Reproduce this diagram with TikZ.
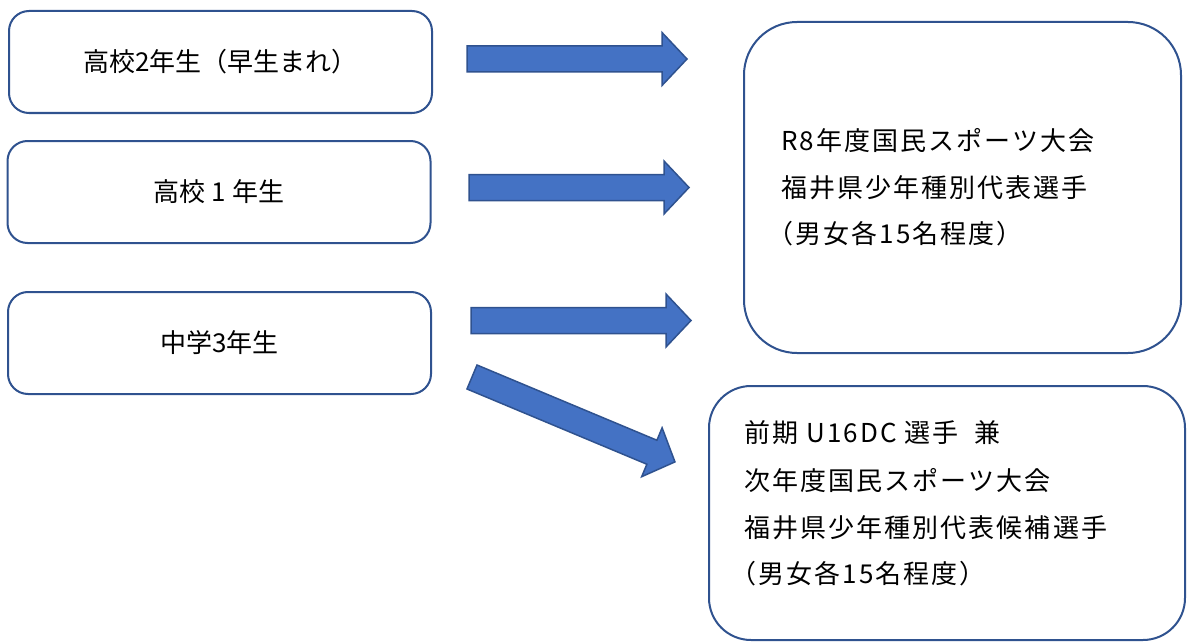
\documentclass[tikz,border=0pt]{standalone}
\usepackage{fontspec}
\setmainfont{Noto Sans CJK JP}
\newfontfamily\jpwide[LetterSpace=8]{Noto Sans CJK JP}
\definecolor{edgeblue}{HTML}{2F528F}
\definecolor{fillblue}{HTML}{4472C4}
\tikzset{
  leftbox/.style={draw=edgeblue, line width=2pt, rounded corners=20pt,
    minimum width=423pt, minimum height=102pt, inner sep=0pt,
    font=\fontsize{26}{30}\selectfont},
  bigbox/.style={draw=edgeblue, line width=2pt, inner sep=0pt},
  rtext/.style={anchor=base west, inner sep=0pt, font=\fontsize{26}{30}\jpwide},
  blockarr/.pic={\draw[draw=edgeblue, fill=fillblue, line width=1.5pt, line join=miter]
    (0,-13) -- (195,-13) -- (195,-26.5) -- (220,0) -- (195,26.5) -- (195,13) -- (0,13) -- cycle;}
}
\begin{document}
\begin{tikzpicture}[x=1pt, y=-1pt]
\useasboundingbox (0,0) rectangle (1187,642);
% left boxes
\node[leftbox] (b1) at (220.5,62) {高校2年生（早生まれ）};
\node[leftbox] (b2) at (219,192) {高校 1 年生};
\node[leftbox] (b3) at (219.5,343) {中学3年生};
% right boxes
\node[bigbox, rounded corners=53pt, minimum width=437pt, minimum height=331pt] (ra) at (962.5,187.5) {};
\node[bigbox, rounded corners=42pt, minimum width=476pt, minimum height=254pt] (rb) at (947,513) {};
% text of box A
\node[rtext] (a1) at (781,150) {R8年度国民スポーツ大会};
\node[rtext] (a2) at (781,197) {福井県少年種別代表選手};
\node[rtext] (a3) at (767,243) {（男女各15名程度）};
% text of box B
\node[rtext] (c1) at (744,442) {前期 U16DC 選手\hspace{16pt}兼};
\node[rtext] (c2) at (744,490) {次年度国民スポーツ大会};
\node[rtext] (c3) at (744,537) {福井県少年種別代表候補選手};
\node[rtext] (c4) at (730,583) {（男女各15名程度）};
% block arrows
\pic (arr1) at (467,59) {blockarr};
\pic (arr2) at (469,187.5) {blockarr};
\pic (arr3) at (471,320.5) {blockarr};
\pic[rotate=-22.7] (arr4) at (472,377) {blockarr};
\end{tikzpicture}
\end{document}
